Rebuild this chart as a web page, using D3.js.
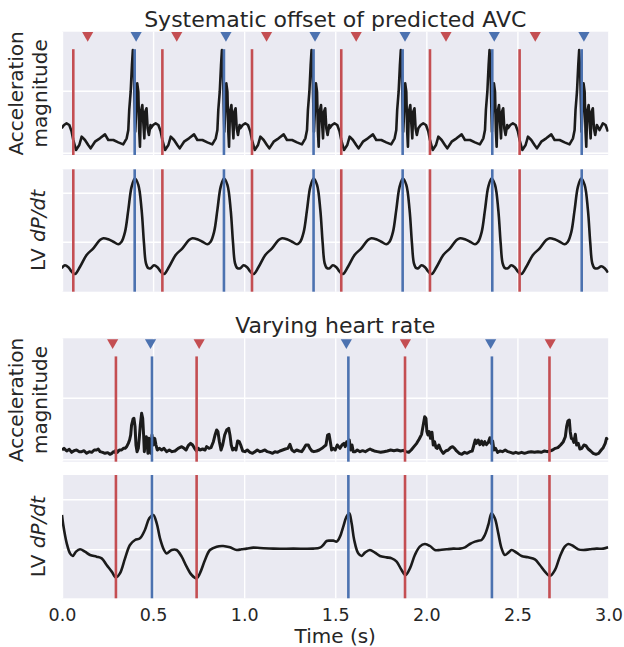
<!DOCTYPE html>
<html>
<head>
<meta charset="utf-8">
<script src="https://cdn.jsdelivr.net/npm/d3@7/dist/d3.min.js"></script>
<style>
  html, body { margin: 0; padding: 0; background: #ffffff; }
  svg { display: block; font-family: "DejaVu Sans", sans-serif; }
</style>
</head>
<body>
<div id="chart"></div>
<script>
// ---------------- DATA ----------------
const xTicks = [0, 0.5, 1.0, 1.5, 2.0, 2.5, 3.0];
const xTickLabels = ["0.0", "0.5", "1.0", "1.5", "2.0", "2.5", "3.0"];

// "Systematic offset of predicted AVC"
const offsetRedLines    = [0.062, 0.551, 1.043, 1.533, 2.020, 2.512];
const offsetBlueLines   = [0.399, 0.889, 1.381, 1.870, 2.362, 2.853];
const offsetRedMarkers  = [0.141, 0.630, 1.123, 1.615, 2.108, 2.598];
const offsetBlueMarkers = [0.407, 0.900, 1.389, 1.883, 2.373, 2.865];

// one beat of acceleration magnitude, time relative to the red line (s)
const offsetAccBeat = [
  [-0.064,0.393],[-0.051,0.447],[-0.037,0.474],[-0.022,0.447],[-0.009,0.339],
  [0.000,0.205],[0.015,0.044],[0.033,0.124],[0.046,0.259],[0.064,0.205],
  [0.082,0.124],[0.095,0.070],[0.119,0.178],[0.146,0.232],[0.174,0.296],
  [0.192,0.205],[0.220,0.205],[0.247,0.167],[0.274,0.135],[0.293,0.232],
  [0.302,0.366],[0.307,0.689],[0.315,0.984],[0.322,1.415],[0.327,1.656],
  [0.333,1.253],[0.337,0.716],[0.340,0.339],[0.346,0.716],[0.351,1.119],
  [0.357,0.984],[0.362,0.339],[0.366,0.097],[0.371,0.662],[0.379,0.769],
  [0.384,0.500],[0.390,0.232],[0.395,0.662],[0.402,0.716],[0.408,0.393],
  [0.415,0.285],[0.424,0.447],[0.439,0.366],[0.457,0.474],[0.472,0.447],
  [0.485,0.339]
];
// one beat of LV dP/dt, time relative to the red line (s)
const offsetDpdtBeat = [
  [-0.064,-0.54],[-0.046,-0.48],[-0.027,-0.52],[-0.009,-0.61],[0.009,-0.66],
  [0.037,-0.51],[0.073,-0.27],[0.110,-0.135],[0.146,0.035],[0.165,0.07],
  [0.192,0.05],[0.220,0.0],[0.247,-0.05],[0.265,0.0],[0.284,0.20],
  [0.302,0.65],[0.320,1.12],[0.338,1.29],[0.357,1.16],[0.375,0.65],
  [0.388,-0.03],[0.399,-0.44],[0.412,-0.54],[0.430,-0.54],[0.448,-0.50],
  [0.467,-0.54],[0.485,-0.63]
];

// "Varying heart rate"
const varRedLines    = [0.296, 0.739, 1.883, 2.676];
const varBlueLines   = [0.494, 1.572, 2.360];
const varRedMarkers  = [0.278, 0.753, 1.885, 2.680];
const varBlueMarkers = [0.486, 1.561, 2.353];

const varAcc = [
  [0.000,0.151],[0.011,0.178],[0.026,0.135],[0.040,0.162],[0.053,0.113],[0.066,0.140],
  [0.080,0.151],[0.095,0.124],[0.108,0.124],[0.121,0.140],[0.135,0.097],[0.150,0.124],
  [0.163,0.113],[0.177,0.151],[0.190,0.151],[0.199,0.167],[0.209,0.124],[0.223,0.113],
  [0.236,0.097],[0.251,0.108],[0.263,0.081],[0.274,0.097],[0.282,0.124],[0.291,0.113],
  [0.296,0.151],[0.304,0.113],[0.315,0.151],[0.327,0.151],[0.337,0.178],[0.346,0.178],
  [0.355,0.205],[0.364,0.259],[0.371,0.313],[0.377,0.394],[0.382,0.557],[0.390,0.654],
  [0.395,0.665],[0.401,0.530],[0.406,0.232],[0.412,0.124],[0.419,0.178],[0.424,0.340],
  [0.430,0.557],[0.437,0.746],[0.443,0.665],[0.448,0.394],[0.452,0.124],[0.457,0.286],
  [0.463,0.367],[0.468,0.232],[0.472,0.097],[0.477,0.340],[0.483,0.178],[0.488,0.097],
  [0.494,0.394],[0.501,0.232],[0.509,0.340],[0.516,0.232],[0.523,0.151],[0.534,0.178],
  [0.547,0.151],[0.560,0.178],[0.574,0.124],[0.589,0.151],[0.604,0.124],[0.620,0.135],
  [0.638,0.178],[0.657,0.205],[0.670,0.178],[0.681,0.151],[0.693,0.221],[0.706,0.259],
  [0.717,0.232],[0.730,0.167],[0.739,0.135],[0.748,0.178],[0.757,0.151],[0.772,0.167],
  [0.785,0.151],[0.794,0.205],[0.807,0.178],[0.818,0.189],[0.831,0.286],[0.840,0.394],
  [0.849,0.476],[0.856,0.449],[0.864,0.286],[0.873,0.151],[0.882,0.232],[0.893,0.394],
  [0.904,0.476],[0.915,0.503],[0.922,0.394],[0.929,0.232],[0.937,0.151],[0.946,0.178],
  [0.955,0.151],[0.964,0.297],[0.973,0.286],[0.981,0.232],[0.992,0.135],[1.004,0.124],
  [1.017,0.151],[1.032,0.113],[1.046,0.097],[1.059,0.124],[1.072,0.151],[1.087,0.124],
  [1.101,0.135],[1.114,0.151],[1.127,0.124],[1.142,0.113],[1.156,0.097],[1.169,0.124],
  [1.182,0.113],[1.196,0.135],[1.211,0.151],[1.226,0.167],[1.240,0.178],[1.251,0.243],
  [1.262,0.151],[1.275,0.124],[1.288,0.151],[1.302,0.135],[1.316,0.124],[1.328,0.178],
  [1.339,0.232],[1.352,0.232],[1.361,0.178],[1.372,0.135],[1.383,0.124],[1.398,0.135],
  [1.412,0.151],[1.427,0.178],[1.438,0.205],[1.449,0.232],[1.458,0.394],[1.466,0.405],
  [1.473,0.286],[1.480,0.151],[1.489,0.178],[1.500,0.151],[1.511,0.232],[1.526,0.178],
  [1.537,0.232],[1.548,0.259],[1.555,0.205],[1.563,0.286],[1.570,0.232],[1.577,0.313],
  [1.584,0.151],[1.592,0.232],[1.599,0.124],[1.610,0.124],[1.621,0.151],[1.636,0.124],
  [1.650,0.140],[1.665,0.124],[1.680,0.151],[1.691,0.167],[1.701,0.151],[1.714,0.135],
  [1.731,0.124],[1.749,0.113],[1.767,0.124],[1.786,0.135],[1.804,0.151],[1.822,0.140],
  [1.840,0.151],[1.859,0.135],[1.873,0.145],[1.888,0.124],[1.903,0.113],[1.917,0.151],
  [1.932,0.205],[1.947,0.259],[1.961,0.329],[1.974,0.405],[1.983,0.557],[1.991,0.692],
  [1.998,0.665],[2.003,0.449],[2.009,0.394],[2.016,0.449],[2.023,0.340],[2.031,0.438],
  [2.038,0.232],[2.045,0.286],[2.053,0.189],[2.060,0.178],[2.069,0.232],[2.080,0.151],
  [2.093,0.097],[2.106,0.135],[2.120,0.151],[2.133,0.189],[2.144,0.205],[2.155,0.178],
  [2.166,0.135],[2.181,0.097],[2.195,0.081],[2.210,0.113],[2.224,0.097],[2.239,0.124],
  [2.252,0.135],[2.261,0.232],[2.268,0.313],[2.275,0.259],[2.285,0.313],[2.294,0.238],
  [2.303,0.297],[2.312,0.232],[2.321,0.286],[2.330,0.238],[2.340,0.275],[2.349,0.351],
  [2.356,0.259],[2.364,0.297],[2.371,0.151],[2.380,0.178],[2.391,0.113],[2.404,0.135],
  [2.418,0.124],[2.433,0.151],[2.448,0.124],[2.462,0.113],[2.477,0.097],[2.491,0.113],
  [2.506,0.097],[2.523,0.113],[2.539,0.097],[2.557,0.113],[2.576,0.124],[2.594,0.113],
  [2.612,0.124],[2.631,0.113],[2.649,0.135],[2.664,0.124],[2.678,0.135],[2.693,0.151],
  [2.708,0.178],[2.722,0.189],[2.737,0.232],[2.752,0.286],[2.763,0.367],[2.770,0.530],
  [2.777,0.622],[2.785,0.638],[2.790,0.449],[2.796,0.340],[2.803,0.329],[2.810,0.275],
  [2.818,0.405],[2.825,0.232],[2.834,0.259],[2.843,0.167],[2.854,0.178],[2.865,0.232],
  [2.876,0.221],[2.889,0.167],[2.902,0.135],[2.916,0.097],[2.931,0.081],[2.946,0.097],
  [2.960,0.151],[2.971,0.189],[2.982,0.259],[2.989,0.340],[2.997,0.313]
];

const varDpdt = [
  [0.000,0.686],[0.007,0.486],[0.026,0.119],[0.044,-0.081],[0.059,-0.134],[0.077,-0.047],
  [0.099,0.000],[0.126,-0.047],[0.154,-0.114],[0.190,-0.147],[0.218,-0.181],[0.245,-0.314],
  [0.273,-0.447],[0.296,-0.561],[0.318,-0.481],[0.346,-0.181],[0.373,0.086],[0.401,0.186],
  [0.428,0.219],[0.455,0.386],[0.479,0.619],[0.501,0.686],[0.520,0.519],[0.538,0.219],
  [0.560,-0.014],[0.574,-0.081],[0.602,-0.014],[0.629,-0.014],[0.657,-0.147],[0.684,-0.347],
  [0.712,-0.514],[0.739,-0.581],[0.757,-0.481],[0.785,-0.214],[0.812,-0.014],[0.849,0.053],
  [0.885,0.066],[0.922,0.039],[0.959,-0.014],[0.986,0.000],[1.014,0.013],[1.050,0.033],
  [1.087,0.026],[1.160,0.013],[1.270,0.013],[1.379,0.013],[1.416,0.033],[1.434,0.086],
  [1.453,0.166],[1.471,0.173],[1.489,0.173],[1.508,0.153],[1.526,0.253],[1.544,0.453],
  [1.562,0.653],[1.577,0.719],[1.590,0.519],[1.604,0.186],[1.626,-0.081],[1.645,-0.134],
  [1.663,-0.067],[1.690,-0.014],[1.718,-0.067],[1.745,-0.134],[1.782,-0.161],[1.810,-0.181],
  [1.837,-0.247],[1.864,-0.414],[1.886,-0.514],[1.910,-0.381],[1.937,-0.114],[1.964,0.053],
  [1.992,0.106],[2.020,0.066],[2.047,-0.014],[2.075,-0.014],[2.111,0.000],[2.148,0.013],
  [2.184,0.013],[2.212,0.039],[2.239,0.106],[2.267,0.153],[2.285,0.173],[2.303,0.186],
  [2.321,0.286],[2.340,0.486],[2.358,0.719],[2.376,0.619],[2.395,0.319],[2.413,0.019],
  [2.431,-0.114],[2.450,-0.067],[2.468,-0.014],[2.495,-0.067],[2.523,-0.134],[2.559,-0.161],
  [2.596,-0.201],[2.623,-0.314],[2.651,-0.447],[2.678,-0.534],[2.706,-0.414],[2.733,-0.147],
  [2.760,0.053],[2.779,0.106],[2.806,0.066],[2.834,-0.001],[2.862,-0.014],[2.898,0.000],
  [2.934,0.013],[2.971,0.013],[2.998,0.039]
];

// -------- build the periodic series from the read beat shape and beat times --------
function placeBeats(beat, anchors) {
  const pts = [];
  anchors.forEach((a, i) => {
    const start = a + beat[0][0];
    const end = i < anchors.length - 1 ? anchors[i + 1] + beat[0][0] : Infinity;
    beat.forEach(([dt, v]) => {
      const t = a + dt;
      if (t >= start - 1e-9 && t < end) pts.push([t, v]);
    });
  });
  return pts;
}
const offsetAcc = placeBeats(offsetAccBeat, offsetRedLines);
const offsetDpdt = placeBeats(offsetDpdtBeat, offsetRedLines);

// ---------------- STYLE / LAYOUT ----------------
const W = 624, H = 647;
const RED = "#C44E52", BLUE = "#4C72B0", BG = "#EAEAF2", INK = "#262626", TRACE = "#1b1b1b";
const left = 62, right = 608.5;

const panels = [
  { top: 31.7, bottom: 155.0, domain: [-0.037, 1.952], grid: [0, 1], data: offsetAcc, curve: d3.curveLinear, sw: 2.6,
    red: offsetRedLines, blue: offsetBlueLines, redM: offsetRedMarkers, blueM: offsetBlueMarkers,
    lineTop: 1.67, label: ["Acceleration", "magnitude"] },
  { top: 169.3, bottom: 291.7, domain: [-1.02, 1.478], grid: [0, 1], data: offsetDpdt, curve: d3.curveCatmullRom, sw: 2.6,
    red: offsetRedLines, blue: offsetBlueLines, redM: null, blueM: null, lineTop: null, label: null },
  { top: 338.3, bottom: 461.7, domain: [-0.039, 1.964], grid: [0, 1], data: varAcc, curve: d3.curveLinear, sw: 3.0,
    red: varRedLines, blue: varBlueLines, redM: varRedMarkers, blueM: varBlueMarkers,
    lineTop: 1.67, label: ["Acceleration", "magnitude"] },
  { top: 475.0, bottom: 598.3, domain: [-0.98, 1.486], grid: [0, 1], data: varDpdt, curve: d3.curveCatmullRom, sw: 2.6,
    red: varRedLines, blue: varBlueLines, redM: null, blueM: null, lineTop: null, label: null }
];

const svg = d3.select("#chart").append("svg")
  .attr("width", W).attr("height", H).attr("viewBox", `0 0 ${W} ${H}`);
svg.append("rect").attr("width", W).attr("height", H).attr("fill", "#fff");

const x = d3.scaleLinear().domain([0, 3]).range([left, right]);

panels.forEach((p, i) => {
  const y = d3.scaleLinear().domain(p.domain).range([p.bottom, p.top]);
  const g = svg.append("g");
  const clipId = "clip" + i;
  svg.append("defs").append("clipPath").attr("id", clipId)
    .append("rect").attr("x", left).attr("y", p.top).attr("width", right - left).attr("height", p.bottom - p.top);

  g.append("rect").attr("x", left).attr("y", p.top).attr("width", right - left).attr("height", p.bottom - p.top)
    .attr("fill", BG);

  // grid via axes
  const gx = g.append("g").attr("transform", `translate(0,${p.bottom})`)
    .call(d3.axisBottom(x).tickValues(xTicks).tickSize(-(p.bottom - p.top)).tickFormat(""));
  const gy = g.append("g").attr("transform", `translate(${left},0)`)
    .call(d3.axisLeft(y).tickValues(p.grid).tickSize(-(right - left)).tickFormat(""));
  [gx, gy].forEach(a => {
    a.select(".domain").remove();
    a.selectAll(".tick line").attr("stroke", "#fff").attr("stroke-width", 1.4);
  });

  // trace
  const line = d3.line().x(d => x(d[0])).y(d => y(d[1])).curve(p.curve);
  g.append("path").datum(p.data).attr("d", line).attr("clip-path", `url(#${clipId})`)
    .attr("fill", "none").attr("stroke", TRACE).attr("stroke-width", p.sw).attr("stroke-linejoin", "round");

  // vertical event lines
  const y0 = p.bottom;
  const y1 = p.lineTop == null ? p.top : y(p.lineTop);
  g.selectAll(".rl").data(p.red).join("line")
    .attr("x1", d => x(d)).attr("x2", d => x(d)).attr("y1", y0).attr("y2", y1)
    .attr("stroke", RED).attr("stroke-width", 2.6);
  g.selectAll(".bl").data(p.blue).join("line")
    .attr("x1", d => x(d)).attr("x2", d => x(d)).attr("y1", y0).attr("y2", y1)
    .attr("stroke", BLUE).attr("stroke-width", 2.6);

  // triangle markers
  const tri = d3.symbol().type(d3.symbolTriangle).size(54);
  const markerLevel = 1.895;
  if (p.redM) {
    g.selectAll(".rm").data(p.redM).join("path")
      .attr("d", tri).attr("transform", d => `translate(${x(d)},${y(markerLevel)}) rotate(180)`)
      .attr("fill", RED);
    g.selectAll(".bm").data(p.blueM).join("path")
      .attr("d", tri).attr("transform", d => `translate(${x(d)},${y(markerLevel)}) rotate(180)`)
      .attr("fill", BLUE);
  }

  // y labels
  const cy = (p.top + p.bottom) / 2;
  if (p.label) {
    g.append("text").attr("transform", `translate(22.8,${cy}) rotate(-90)`)
      .attr("text-anchor", "middle").attr("fill", INK).style("font-size", "20px").text(p.label[0]);
    g.append("text").attr("transform", `translate(46.5,${cy}) rotate(-90)`)
      .attr("text-anchor", "middle").attr("fill", INK).style("font-size", "20px").text(p.label[1]);
  } else {
    const t = g.append("text").attr("transform", `translate(45,${cy}) rotate(-90)`)
      .attr("text-anchor", "middle").attr("fill", INK).style("font-size", "20px");
    t.append("tspan").text("LV ");
    t.append("tspan").style("font-style", "italic").text("dP/dt");
  }
});

// x tick labels on the bottom panel
const xa = svg.append("g").attr("transform", `translate(0,${panels[3].bottom})`)
  .call(d3.axisBottom(x).tickValues(xTicks).tickSize(0).tickPadding(0)
    .tickFormat((d, i) => xTickLabels[i]));
xa.select(".domain").remove();
xa.selectAll("text").attr("fill", INK).style("font-size", "17.5px")
  .style("font-family", "DejaVu Sans, sans-serif").attr("dy", null).attr("y", 22.4);

svg.append("text").attr("x", (left + right) / 2).attr("y", 642.5).attr("text-anchor", "middle")
  .attr("fill", INK).style("font-size", "20px").text("Time (s)");

svg.append("text").attr("x", (left + right) / 2).attr("y", 26.7).attr("text-anchor", "middle")
  .attr("fill", INK).style("font-size", "22px").text("Systematic offset of predicted AVC");
svg.append("text").attr("x", (left + right) / 2).attr("y", 333.3).attr("text-anchor", "middle")
  .attr("fill", INK).style("font-size", "22px").text("Varying heart rate");
</script>
</body>
</html>
